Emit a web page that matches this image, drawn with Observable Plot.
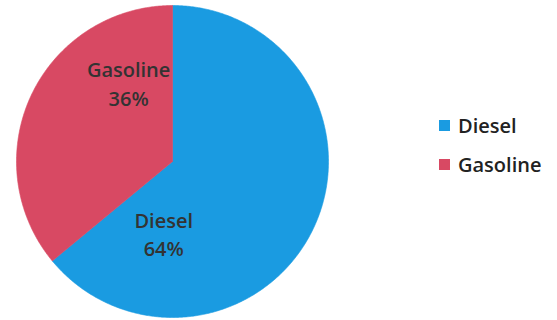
<!DOCTYPE html>
<html><head><meta charset="utf-8">
<script src="https://cdn.jsdelivr.net/npm/d3@7"></script>
<script src="https://cdn.jsdelivr.net/npm/@observablehq/plot@0.6"></script>
<style>
body{margin:0;background:#fff;}
#wrap{position:relative;width:557px;height:320px;overflow:hidden;}
.leg{position:absolute;left:439px;font-family:"Open Sans",sans-serif;font-weight:600;font-size:20px;color:#222;display:flex;align-items:center;height:24px;}
.leg span.sw{display:inline-block;width:11px;height:11px;margin-right:8px;}
</style></head><body><div id="wrap"></div>
<script>
const categories = ["Diesel", "Gasoline"];
const shares = [64, 36];
const colors = ["#1a9be1", "#d84963"];

const rows = categories.map((c, i) => ({cat: c, share: shares[i]}));
const arcs = d3.pie().sort(null).value(d => d.share)(rows);

// polygon outline of each slice, traced along its arc (angles from the pie layout)
const poly = [];
arcs.forEach(a => {
  const cat = a.data.cat;
  const n = Math.ceil((a.endAngle - a.startAngle) / (Math.PI / 360));
  poly.push({cat, x: 0, y: 0});
  for (let i = 0; i <= n; i++) {
    const t = a.startAngle + (a.endAngle - a.startAngle) * i / n;
    poly.push({cat, x: Math.sin(t), y: Math.cos(t)});
  }
  poly.push({cat, x: 0, y: 0});
});

// label placement (layout, polar: angle in degrees clockwise from top, radius fraction)
const labelPlace = {Diesel: [187, 0.46], Gasoline: [331, 0.58]};
const labels = rows.map(r => {
  const [deg, rad] = labelPlace[r.cat];
  const t = deg * Math.PI / 180;
  return {...r, x: rad * Math.sin(t), y: rad * Math.cos(t)};
});

const chart = Plot.plot({
  width: 557, height: 320,
  marginLeft: 16, marginRight: 229, marginTop: 5, marginBottom: 3,
  x: {domain: [-1, 1], axis: null},
  y: {domain: [-1, 1], axis: null},
  color: {domain: categories, range: colors},
  style: {background: "#fff"},
  marks: [
    Plot.line(poly, {x: "x", y: "y", z: "cat", fill: "cat", stroke: "cat", strokeWidth: 0.6}),
    Plot.text(labels, {x: "x", y: "y", text: d => `${d.cat}\n${d.share}%`,
      fontSize: 20, fontWeight: 600, fontFamily: "Open Sans", lineHeight: 1.45,
      fill: "#333"})
  ]
});
const wrap = document.getElementById("wrap");
wrap.appendChild(chart);

categories.forEach((c, i) => {
  const d = document.createElement("div");
  d.className = "leg";
  d.style.top = (113 + i * 39) + "px";
  const sw = document.createElement("span");
  sw.className = "sw";
  sw.style.background = colors[i];
  d.appendChild(sw);
  d.appendChild(document.createTextNode(c));
  wrap.appendChild(d);
});
</script></body></html>
